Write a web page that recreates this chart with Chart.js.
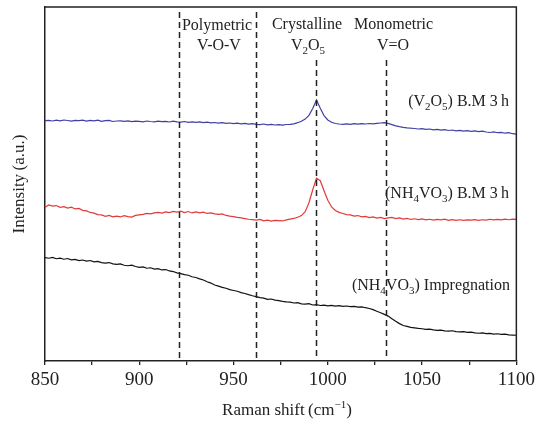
<!DOCTYPE html>
<html>
<head>
<meta charset="utf-8">
<script src="https://cdn.jsdelivr.net/npm/chart.js@4.4.1/dist/chart.umd.min.js"></script>
<style>
  html, body { margin: 0; padding: 0; background: #fff; }
  #wrap { width: 539px; height: 421px; }
</style>
</head>
<body>
<div id="wrap"><canvas id="chart" width="539" height="421"></canvas></div>
<script>
// Raman shift (cm-1), one reading every 2 cm-1
const shift = [
  850, 852, 854, 856, 858, 860, 862, 864, 866, 868,
  870, 872, 874, 876, 878, 880, 882, 884, 886, 888,
  890, 892, 894, 896, 898, 900, 902, 904, 906, 908,
  910, 912, 914, 916, 918, 920, 922, 924, 926, 928,
  930, 932, 934, 936, 938, 940, 942, 944, 946, 948,
  950, 952, 954, 956, 958, 960, 962, 964, 966, 968,
  970, 972, 974, 976, 978, 980, 982, 984, 986, 988,
  990, 992, 994, 996, 998, 1000, 1002, 1004, 1006, 1008,
  1010, 1012, 1014, 1016, 1018, 1020, 1022, 1024, 1026, 1028,
  1030, 1032, 1034, 1036, 1038, 1040, 1042, 1044, 1046, 1048,
  1050, 1052, 1054, 1056, 1058, 1060, 1062, 1064, 1066, 1068,
  1070, 1072, 1074, 1076, 1078, 1080, 1082, 1084, 1086, 1088,
  1090, 1092, 1094, 1096, 1098, 1100
];

// (V2O5) B.M 3 h
const v2o5BM = [
  240.0, 240.3, 239.6, 240.4, 239.8, 240.6, 240.1, 239.5, 240.3, 239.9,
  240.5, 239.4, 240.2, 239.7, 240.4, 239.3, 239.9, 240.2, 239.1, 239.6,
  239.8, 239.2, 239.7, 239.0, 239.5, 239.3, 238.8, 239.6, 239.1, 238.7,
  239.4, 238.9, 239.3, 238.6, 239.5, 238.8, 238.5, 239.1, 238.3, 238.8,
  238.2, 238.7, 237.9, 238.4, 237.8, 238.1, 237.4, 237.9, 237.2, 237.6,
  236.9, 237.5, 236.7, 237.2, 236.4, 236.9, 236.3, 236.0, 236.6, 235.8,
  236.2, 235.6, 236.0, 235.5, 236.1, 236.3, 236.8, 237.9, 239.3, 241.5,
  245.2, 252.0, 260.5, 252.3, 245.0, 240.6, 238.4, 237.1, 236.6, 236.2,
  236.8, 236.3, 236.9, 236.5, 237.0, 236.6, 237.1, 236.8, 237.3, 237.6,
  237.9, 237.2, 236.0, 234.8, 233.9, 233.3, 232.8, 232.4, 232.1, 231.6,
  231.9, 231.2, 231.6, 230.8, 231.3, 230.5, 230.9, 230.1, 230.6, 229.8,
  230.3, 229.5, 229.9, 229.2, 229.7, 228.9, 229.4, 228.6, 228.1, 228.8,
  227.9, 228.3, 227.4, 227.9, 226.9, 226.5
];

// (NH4VO3) B.M 3 h
const nh4vo3BM = [
  153.5, 155.8, 154.6, 155.2, 153.4, 154.1, 152.6, 153.5, 151.8, 152.3,
  150.4, 149.8, 148.3, 147.6, 146.2, 145.8, 144.5, 145.3, 143.9, 144.6,
  143.8, 145.1, 144.2, 143.6, 145.4, 145.9, 146.4, 147.3, 146.8, 147.9,
  148.3, 147.6, 148.8, 148.2, 149.3, 148.7, 149.5, 148.1, 149.2, 147.8,
  148.9, 147.9, 148.6, 147.3, 147.8, 146.9, 146.4, 146.8, 145.3, 144.6,
  144.1, 143.4, 142.8, 142.2, 141.5, 141.1, 140.6, 141.3, 139.9, 140.7,
  139.6, 140.4, 140.2, 139.8, 140.9, 141.6, 142.3, 143.5, 145.2, 149.0,
  158.0, 171.0, 182.5, 180.0, 170.0, 160.5, 153.8, 150.2, 148.4, 147.3,
  146.1, 145.8, 144.6, 145.2, 143.9, 144.4, 143.2, 143.8, 142.6, 143.3,
  142.1, 142.9, 143.4, 142.2, 142.8, 141.6, 142.4, 141.3, 142.0, 141.2,
  141.8, 140.9, 141.5, 140.6, 141.3, 140.8, 141.6, 140.5, 141.1, 140.4,
  141.0, 140.3, 140.9, 140.6, 141.2, 140.4, 141.0, 140.7, 141.5, 140.8,
  141.4, 140.9, 141.7, 141.0, 141.6, 141.3
];

// (NH4VO3) Impregnation
const nh4vo3Imp = [
  103.2, 102.6, 103.4, 102.1, 102.7, 101.6, 102.3, 100.9, 101.5, 100.2,
  100.8, 99.7, 100.3, 98.9, 99.4, 98.2, 97.8, 98.3, 96.9, 96.4,
  96.9, 95.6, 95.1, 95.7, 94.3, 93.4, 93.9, 92.6, 93.1, 91.8,
  92.2, 90.9, 91.3, 89.9, 89.3, 88.0, 87.3, 86.2, 85.6, 84.1,
  83.4, 82.0, 80.9, 79.1, 77.8, 75.9, 74.8, 73.5, 72.6, 71.2,
  70.4, 69.6, 68.3, 67.4, 66.2, 65.1, 64.3, 63.2, 62.8, 61.6,
  61.9, 60.8, 60.3, 59.6, 59.1, 58.7, 57.9, 58.2, 57.1, 56.8,
  57.2, 55.9, 56.3, 55.4, 55.8, 55.1, 55.6, 54.7, 55.2, 54.5,
  54.9, 54.2, 54.6, 53.8, 54.1, 53.2, 52.4, 51.3, 49.6, 48.2,
  46.5, 44.8, 42.1, 39.6, 37.3, 35.4, 34.6, 33.5, 33.1, 32.6,
  32.2, 31.5, 31.8, 31.0, 30.6, 30.9, 30.1, 29.8, 30.2, 29.4,
  29.0, 29.3, 28.6, 28.9, 28.1, 27.7, 28.0, 27.3, 27.6, 26.9,
  27.2, 26.5, 26.8, 26.1, 25.9, 25.7
];

// band positions marked with dashed lines
const bandPositions = [921.3, 962.1, 993.9, 1031.1];
const xTicks = [850, 900, 950, 1000, 1050, 1100];

const FONT = "'Liberation Serif', 'Times New Roman', serif";
const INK = "#222";

// draw text made of plain / subscript / superscript parts
function drawRich(ctx, parts, x, y, align, size) {
  const widths = parts.map(p => {
    ctx.font = ((p.sub || p.sup) ? Math.round(size * 0.66) : size) + "px " + FONT;
    return ctx.measureText(p.t).width;
  });
  const total = widths.reduce((a, b) => a + b, 0);
  let cx = align === "center" ? x - total / 2 : align === "right" ? x - total : x;
  ctx.textAlign = "left";
  ctx.textBaseline = "alphabetic";
  parts.forEach((p, i) => {
    ctx.font = ((p.sub || p.sup) ? Math.round(size * 0.66) : size) + "px " + FONT;
    const dy = p.sub ? size * 0.22 : p.sup ? -size * 0.4 : 0;
    ctx.fillText(p.t, cx, y + dy);
    cx += widths[i];
  });
}

const decorations = {
  id: "decorations",
  afterDatasetsDraw(chart) {
    const { ctx, chartArea: a, scales: { x } } = chart;
    ctx.save();

    // dashed band markers
    ctx.strokeStyle = INK;
    ctx.lineWidth = 1.5;
    ctx.setLineDash([6, 4]);
    bandPositions.forEach((b, i) => {
      const px = Math.round(x.getPixelForValue(b)) + 0.5;
      ctx.beginPath();
      ctx.moveTo(px, i < 2 ? 12 : 60);
      ctx.lineTo(px, a.bottom);
      ctx.stroke();
    });
    ctx.setLineDash([]);

    // top and right frame
    ctx.lineWidth = 1.5;
    ctx.beginPath();
    ctx.moveTo(a.left, a.top);
    ctx.lineTo(a.right, a.top);
    ctx.lineTo(a.right, a.bottom);
    ctx.stroke();

    ctx.fillStyle = INK;
    // band labels
    drawRich(ctx, [{ t: "Polymetric" }], 217, 30, "center", 16);
    drawRich(ctx, [{ t: "V-O-V" }], 219, 50, "center", 16);
    drawRich(ctx, [{ t: "Crystalline" }], 307, 29, "center", 16);
    drawRich(ctx, [{ t: "V" }, { t: "2", sub: true }, { t: "O" }, { t: "5", sub: true }], 308, 50, "center", 16);
    drawRich(ctx, [{ t: "Monometric" }], 393.5, 29, "center", 16);
    drawRich(ctx, [{ t: "V=O" }], 393, 50, "center", 16);

    // series labels
    drawRich(ctx, [{ t: "(V" }, { t: "2", sub: true }, { t: "O" }, { t: "5", sub: true }, { t: ") B.M 3\u2009h" }], 509, 106, "right", 16);
    drawRich(ctx, [{ t: "(NH" }, { t: "4", sub: true }, { t: "VO" }, { t: "3", sub: true }, { t: ") B.M 3\u2009h" }], 509, 198, "right", 16);
    drawRich(ctx, [{ t: "(NH" }, { t: "4", sub: true }, { t: "VO" }, { t: "3", sub: true }, { t: ") Impregnation" }], 510, 290, "right", 16);

    // axis titles
    drawRich(ctx, [{ t: "Raman shift\u2009(cm" }, { t: "\u22121", sup: true }, { t: ")" }], 287, 415, "center", 17);
    ctx.save();
    ctx.translate(24, 184);
    ctx.rotate(-Math.PI / 2);
    drawRich(ctx, [{ t: "Intensity\u2009(a.u.)" }], 0, 0, "center", 17);
    ctx.restore();

    ctx.restore();
  }
};

const toPoints = arr => shift.map((s, i) => ({ x: s, y: arr[i] }));

new Chart(document.getElementById("chart"), {
  type: "line",
  data: {
    datasets: [
      { label: "(V2O5) B.M 3 h", data: toPoints(v2o5BM), borderColor: "#4040a4", borderWidth: 1.2 },
      { label: "(NH4VO3) B.M 3 h", data: toPoints(nh4vo3BM), borderColor: "#e23a3a", borderWidth: 1.2 },
      { label: "(NH4VO3) Impregnation", data: toPoints(nh4vo3Imp), borderColor: "#111", borderWidth: 1.2 }
    ]
  },
  options: {
    responsive: false,
    animation: false,
    layout: { padding: { top: 7, right: 22, left: 0, bottom: 0 } },
    elements: { point: { radius: 0 }, line: { tension: 0 } },
    plugins: { legend: { display: false }, tooltip: { enabled: false } },
    scales: {
      x: {
        type: "linear",
        min: 850,
        max: 1100,
        afterFit: s => { s.height = 60; },
        afterBuildTicks: s => {
          const t = [];
          for (let v = 850; v <= 1100; v += 25) t.push({ value: v });
          s.ticks = t;
        },
        ticks: {
          autoSkip: false,
          maxRotation: 0,
          padding: 4,
          color: INK,
          font: { family: FONT, size: 19 },
          callback: v => (xTicks.includes(v) ? String(v) : "")
        },
        grid: { drawOnChartArea: false, drawTicks: true, tickLength: 4, color: INK, lineWidth: 1.3 },
        border: { display: true, color: INK, width: 1.5 }
      },
      y: {
        min: 0,
        max: 353.4,
        afterFit: s => { s.width = 45; },
        ticks: { display: false },
        grid: { display: false },
        border: { display: true, color: INK, width: 1.5 }
      }
    }
  },
  plugins: [decorations]
});
</script>
</body>
</html>
